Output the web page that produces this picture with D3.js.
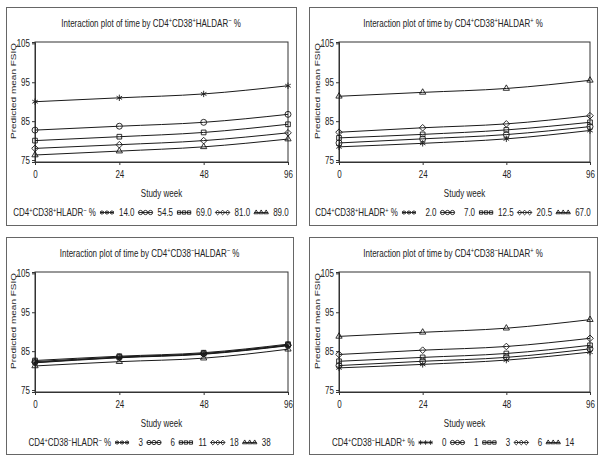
<!DOCTYPE html>
<html><head><meta charset="utf-8">
<script src="https://cdn.jsdelivr.net/npm/d3@7/dist/d3.min.js"></script>
<style>body{margin:0;background:#fff}text{font-family:"Liberation Sans",Arial,sans-serif;fill:#222}</style>
</head><body>
<svg id="c" width="603" height="459"></svg>
<script>
const weeks = ["0", "24", "48", "96"];
const yTicks = [75, 85, 95, 105];
const symbolNames = ["asterisk", "circle", "square", "diamond", "triangle"];

const p1Levels = ["14.0", "54.5", "69.0", "81.0", "89.0"];
const p1Values = [
  [90.0, 91.0, 92.0, 94.1],
  [82.7, 83.7, 84.7, 86.75],
  [80.0, 81.0, 82.1, 84.2],
  [78.0, 78.95, 80.0, 82.0],
  [76.3, 77.3, 78.4, 80.4]
];
const p2Levels = ["2.0", "7.0", "12.5", "20.5", "67.0"];
const p2Values = [
  [78.4, 79.3, 80.45, 82.6],
  [79.4, 80.45, 81.55, 83.6],
  [80.7, 81.6, 82.75, 84.7],
  [82.15, 83.3, 84.3, 86.4],
  [91.4, 92.4, 93.4, 95.5]
];
const p3Levels = ["3", "6", "11", "18", "38"];
const p3Values = [
  [82.0, 83.3, 84.2, 86.4],
  [82.3, 83.5, 84.4, 86.6],
  [82.6, 83.7, 84.6, 86.8],
  [82.1, 83.4, 84.3, 86.5],
  [81.2, 82.3, 83.2, 85.5]
];
const p4Levels = ["0", "1", "3", "6", "14"];
const p4Values = [
  [80.7, 81.6, 82.7, 84.75],
  [81.3, 82.4, 83.4, 85.6],
  [82.4, 83.4, 84.4, 86.5],
  [84.15, 85.25, 86.2, 88.3],
  [88.8, 89.85, 90.9, 93.1]
];
// label parts: [text, superscript?]
const p1Title = [["Interaction plot of time by CD4",0],["+",1],["CD38",0],["+",1],["HALDAR",0],["\u2212",1],[" %",0]];
const p2Title = [["Interaction plot of time by CD4",0],["+",1],["CD38",0],["+",1],["HALDAR",0],["+",1],[" %",0]];
const p3Title = [["Interaction plot of time by CD4",0],["+",1],["CD38",0],["\u2212",1],["HALDAR",0],["\u2212",1],[" %",0]];
const p4Title = [["Interaction plot of time by CD4",0],["+",1],["CD38",0],["\u2212",1],["HALDAR",0],["+",1],[" %",0]];
const p1Leg = [["CD4",0],["+",1],["CD38",0],["+",1],["HLADR",0],["\u2212",1],[" %",0]];
const p2Leg = [["CD4",0],["+",1],["CD38",0],["+",1],["HLADR",0],["+",1],[" %",0]];
const p3Leg = [["CD4",0],["+",1],["CD38",0],["\u2212",1],["HLADR",0],["\u2212",1],[" %",0]];
const p4Leg = [["CD4",0],["+",1],["CD38",0],["\u2212",1],["HLADR",0],["+",1],[" %",0]];

const panels = [
  {box:[6,7,296,225], px:[35,288], py:[42,162], title:p1Title, leg:p1Leg, levels:p1Levels, values:p1Values},
  {box:[309,7,597,225], px:[339,590], py:[42,162], title:p2Title, leg:p2Leg, levels:p2Levels, values:p2Values},
  {box:[6,237,293,454], px:[35,288], py:[272,392], title:p3Title, leg:p3Leg, levels:p3Levels, values:p3Values},
  {box:[309,237,597,454], px:[339,590], py:[272,392], title:p4Title, leg:p4Leg, levels:p4Levels, values:p4Values}
];

const SX = 0.8;   // horizontal text compression seen in the reference
const FS = 10;
const svg = d3.select("#c");
const ink = "#1a1a1a";
const symType = {asterisk:d3.symbolAsterisk, circle:d3.symbolCircle, square:d3.symbolSquare2, diamond:d3.symbolDiamond2, triangle:d3.symbolTriangle2};

function richText(sel, parts, size){
  parts.forEach(([t,sup])=>{
    const ts = sel.append("tspan").text(t);
    if(sup){ ts.attr("font-size", size*0.7).attr("baseline-shift","super"); }
  });
  return sel;
}
function sText(g, x, y, anchor){
  return g.append("text").attr("transform",`translate(${x},${y}) scale(${SX},1)`)
    .attr("text-anchor",anchor).attr("font-size",FS);
}
function marker(g, name, x, y, size){
  g.append("path").attr("d", d3.symbol(symType[name], size)())
    .attr("transform", `translate(${x},${y})`)
    .attr("fill","none").attr("stroke",ink).attr("stroke-width",0.9);
}

panels.forEach(p=>{
  const g = svg.append("g");
  const [bx0,by0,bx1,by1] = p.box;
  g.append("rect").attr("x",bx0+0.5).attr("y",by0+0.5).attr("width",bx1-bx0).attr("height",by1-by0)
    .attr("fill","none").attr("stroke","#666").attr("stroke-width",1);
  const x = d3.scalePoint().domain(weeks).range(p.px);
  const y = d3.scaleLinear().domain([74.5,105.35]).range([p.py[1], p.py[0]]);
  g.append("rect").attr("x",p.px[0]).attr("y",p.py[0]).attr("width",p.px[1]-p.px[0]).attr("height",p.py[1]-p.py[0])
    .attr("fill","none").attr("stroke","#333").attr("stroke-width",1);
  const ya = g.append("g").attr("transform",`translate(${p.px[0]},0)`)
    .call(d3.axisLeft(y).tickValues(yTicks).tickSize(3).tickPadding(2));
  const xa = g.append("g").attr("transform",`translate(0,${p.py[1]})`)
    .call(d3.axisBottom(x).tickSize(3).tickPadding(6));
  [ya,xa].forEach(a=>{
    a.select(".domain").attr("stroke","#333");
    a.selectAll(".tick line").attr("stroke","#333");
    a.selectAll(".tick text").each(function(){
      const t = d3.select(this);
      const tx = +t.attr("x") || 0, ty = +t.attr("y") || 0;
      t.attr("x",0).attr("y",0).attr("transform",`translate(${tx},${ty}) scale(${SX},1)`);
    }).attr("font-size",FS).attr("font-family","Liberation Sans, Arial, sans-serif").attr("fill",ink);
  });
  // title
  richText(sText(g,(bx0+bx1)/2, by0+19.5, "middle"), p.title, FS);
  // axis labels
  g.append("text").attr("transform",`translate(${p.px[0]-19.5},${(p.py[0]+p.py[1])/2 - 11}) scale(${SX},1) rotate(-90)`)
    .attr("text-anchor","middle").attr("font-size",FS).text("Predicted mean FSIQ");
  sText(g,(p.px[0]+p.px[1])/2, p.py[1]+35, "middle").text("Study week");
  // lines
  const line = d3.line().x((d,i)=>x(weeks[i])).y(d=>y(d)).curve(d3.curveMonotoneX);
  p.values.forEach((vals,si)=>{
    g.append("path").attr("d",line(vals)).attr("fill","none").attr("stroke",ink).attr("stroke-width",1);
    vals.forEach((v,i)=>marker(g, symbolNames[si], x(weeks[i]), y(v), 28));
  });
  // legend (laid out in scaled pixel units)
  const lg = g.append("g");
  const ly = p.py[1]+54;
  const lab = richText(sText(lg,0,ly,"start"), p.leg, FS);
  let cx = lab.node().getComputedTextLength()*SX + 4;
  const tmp = sText(lg,0,0,"end");
  const fw = d3.max(p.levels, lv=>{ tmp.text(lv); return tmp.node().getComputedTextLength()*SX; });
  tmp.remove();
  p.levels.forEach((lv,si)=>{
    const sy = ly-3.5;
    lg.append("line").attr("x1",cx).attr("x2",cx+14).attr("y1",sy).attr("y2",sy).attr("stroke",ink).attr("stroke-width",0.9);
    [2,7,12].forEach(dx=>marker(lg, symbolNames[si], cx+dx, sy, 14));
    cx += 14 + 5 + fw;
    sText(lg,cx,ly,"end").text(lv);
    cx += 4;
  });
  const total = cx - 4;
  lg.attr("transform",`translate(${(bx0+bx1)/2 - total/2},0)`);
});
</script>
</body></html>
